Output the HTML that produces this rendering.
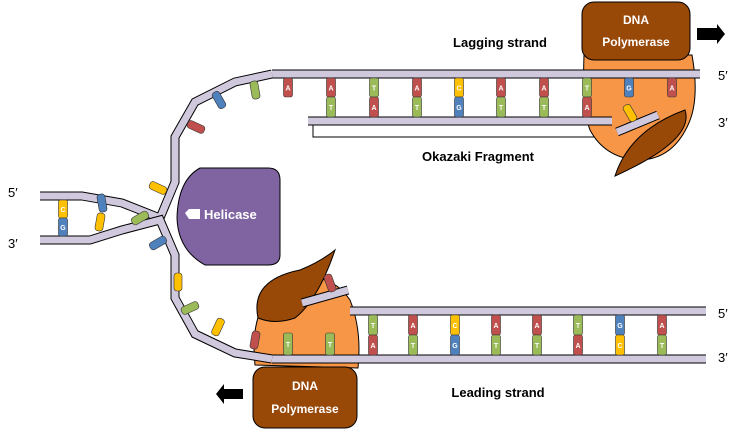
<!DOCTYPE html>
<html><head><meta charset="utf-8"><style>
html,body{margin:0;padding:0;background:#fff;}
svg{display:block;font-family:"Liberation Sans",sans-serif;}
.lbl{font-size:13px;fill:#000;}
.bold{font-weight:bold;}
</style></head><body>
<svg id="d" width="740" height="443" viewBox="0 0 740 443">
<path d="M313,124 L313,137 L602,137 L602,124" fill="none" stroke="#000"/>
<!-- lagging polymerase -->
<path d="M584,55 L692,55 Q700,100 688,125 Q672,160 638,160 Q605,158 590,130 Q582,110 584,55 Z" fill="#f79646" stroke="#000" stroke-width="1"/>
<!-- leading polymerase -->
<path d="M255,365 Q248,300 290,280 Q330,270 350,300 Q362,330 358,368 Z" fill="#f79646" stroke="#000" stroke-width="1"/>
<path d="M258,318 Q250,280 300,270 Q320,262 335,250 Q318,300 295,318 Q275,325 258,318 Z" fill="#984807" stroke="#000" stroke-width="1"/>
<g id="strands"></g>
<g id="bases"></g>
<path d="M615,176 Q630,130 685,110 Q695,140 615,176 Z" fill="#984807" stroke="#000" stroke-width="1"/>
<!-- helicase -->
<path d="M200,168 L268,168 Q280,168 280,180 L280,255 Q280,265 268,265 L205,265 Q178,250 177,218 Q178,180 200,168 Z" fill="#8064a2" stroke="#000" stroke-width="1"/>
<path d="M185,213 L189,209 L200,209 L200,219 L189,219 Z" fill="#fff"/>
<text x="204" y="219" fill="#fff" font-size="13" class="bold">Helicase</text>
<!-- polymerase boxes -->
<rect x="582" y="2" width="108" height="58" rx="12" fill="#984807" stroke="#000"/>
<text x="636" y="24" text-anchor="middle" fill="#fff" font-size="12" class="bold">DNA</text>
<text x="636" y="46" text-anchor="middle" fill="#fff" font-size="12" class="bold">Polymerase</text>
<rect x="253" y="367" width="104" height="61" rx="12" fill="#984807" stroke="#000"/>
<text x="305" y="390" text-anchor="middle" fill="#fff" font-size="12" class="bold">DNA</text>
<text x="305" y="413" text-anchor="middle" fill="#fff" font-size="12" class="bold">Polymerase</text>
<path d="M697,28 L717,28 L717,24 L725,34 L717,44 L717,40 L697,40 Z" fill="#000"/>
<path d="M243,389 L224,389 L224,384 L216,394 L224,404 L224,399 L243,399 Z" fill="#000"/>
<text x="478" y="161" text-anchor="middle" class="lbl bold" font-size="12">Okazaki Fragment</text>
<text x="500" y="47" text-anchor="middle" class="lbl bold" font-size="12">Lagging strand</text>
<text x="498" y="397" text-anchor="middle" class="lbl bold" font-size="12">Leading strand</text>
<text x="718" y="80" class="lbl">5′</text>
<text x="718" y="127" class="lbl">3′</text>
<text x="718" y="318" class="lbl">5′</text>
<text x="718" y="362" class="lbl">3′</text>
<text x="8" y="197" class="lbl">5′</text>
<text x="8" y="248" class="lbl">3′</text>
</svg>
<script>
const laggingX=[288,331,374,417,459,501,544,587,629,672];
const laggingTop=["A","A","T","A","C","A","A","T","G","A"];
const laggingBottom=["","T","A","T","G","T","T","A","",""];
const leadingX=[373,413,455,496,537,578,620,662];
const leadingTop=["T","A","C","A","A","T","G","A"];
const leadingBottom=["A","T","G","T","T","A","C","T"];
const col={A:"#c0504d",T:"#9bbb59",G:"#4f81bd",C:"#ffc000"};
const NS="http://www.w3.org/2000/svg";
function mk(tag,attrs,parent){const e=document.createElementNS(NS,tag);for(const k in attrs)e.setAttribute(k,attrs[k]);parent.appendChild(e);return e;}
const S=document.getElementById('strands'),B=document.getElementById('bases');
function strand(pts,name){
  const d="M"+pts.map(p=>p.join(",")).join(" L");
  const o=mk('path',{d:d,fill:"none",stroke:"#000","stroke-width":9,"stroke-linejoin":"miter"},S);
  
  
  const i=mk('path',{d:d,fill:"none",stroke:"#d0c8dc","stroke-width":7,"stroke-linejoin":"miter"},S);
  
  
}
strand([[272,74],[700,74]],'lagging-template-strand');
strand([[308,121],[612,121]],'okazaki-new-strand');
strand([[350,311],[706,311]],'leading-new-strand');
strand([[272,359],[706,359]],'leading-template-strand');
strand([[40,196],[82,196],[122,203],[160,218],[175,182],[175,137],[195,102],[235,82],[272,74]],'fork-upper-strand');
strand([[40,240],[90,240],[122,230],[160,220],[175,255],[175,298],[195,334],[235,353],[272,359]],'fork-lower-strand');
strand([[302,303],[348,290]],'leading-primer');
strand([[617,132],[658,115]],'lagging-primer');
function base(x,y1,y2,l,name){
  if(!l)return;
  const r=mk('rect',{x:x-4.5,y:y1,width:9,height:y2-y1,rx:2,fill:col[l],stroke:"#333","stroke-width":0.6},B);
  
  
  const t=mk('text',{x:x,y:(y1+y2)/2+3,"text-anchor":"middle","font-size":7,"font-weight":"bold",fill:"#fff"},B);
  t.textContent=l;
  
  
}
laggingX.forEach((x,i)=>{base(x,78,97,laggingTop[i],'lagging-top-base');base(x,97,117,laggingBottom[i],'lagging-bottom-base');});
leadingX.forEach((x,i)=>{base(x,315,335,leadingTop[i],'leading-top-base');base(x,335,355,leadingBottom[i],'leading-bottom-base');});
base(288,333,355,"T",'free-base');base(330,333,355,"T",'free-base');
base(63,200,218,"C",'fork-base');base(63,218,236,"G",'fork-base');
const loose=[[102,203,"G",-10],[100,222,"C",10],[140,218,"T",60],[158,188,"C",-65],[158,243,"G",60],[196,127,"A",-65],[219,100,"G",-30],[255,90,"T",-10],[178,282,"C",0],[190,308,"T",65],[218,327,"C",25],[255,340,"A",10],[330,283,"A",-20],[630,113,"C",-30]];
loose.forEach(a=>{
  const g=mk('rect',{x:a[0]-4,y:a[1]-9,width:8,height:18,rx:3,fill:col[a[2]],stroke:"#333","stroke-width":0.6,transform:`rotate(${a[3]} ${a[0]} ${a[1]})`},B);
  
  
});
</script>
</body></html>
